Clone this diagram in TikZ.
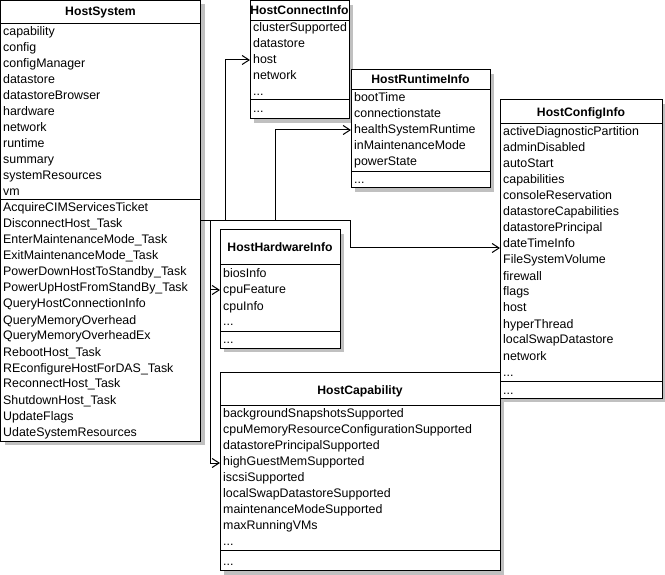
\documentclass[tikz,border=0pt]{standalone}
\usepackage{fontspec}
\setmainfont{Liberation Sans}
\usetikzlibrary{arrows.meta}
\definecolor{shadowc}{RGB}{192,192,192}
\newcommand\bodyf{\fontsize{12.4}{14}\selectfont}
\newcommand\ttlf{\fontsize{12.2}{14}\selectfont\bfseries}
\begin{document}
\begin{tikzpicture}[x=1pt,y=-1pt,
  cls/.style={draw=black,fill=white,line width=1pt,inner sep=0pt,outer sep=0pt,anchor=north west},
  shd/.style={fill=shadowc,draw=none},
  row/.style={anchor=base west,inner sep=0pt,font=\bodyf},
  ttl/.style={anchor=base,inner sep=0pt,font=\ttlf},
  sep/.style={line width=1pt},
  conn/.style={line width=1pt},
  arr/.style={-{Straight Barb[length=7pt,width=9pt]}}]
\useasboundingbox (0,0) rectangle (665,575);

% ---------------- shadows
\fill[shd] (4.5,4.5) rectangle (204.5,445);
\fill[shd] (254,5) rectangle (353,123);
\fill[shd] (355,74) rectangle (494,192);
\fill[shd] (504,104) rectangle (666,402);
\fill[shd] (224,234) rectangle (344,352);
\fill[shd] (224,376) rectangle (504,575);

% ---------------- HostSystem
\node[cls,minimum width=200pt,minimum height=440.5pt] (hs) at (0.5,0.5) {};
\node[ttl] (hst) at (hs.north |- 0,16) {HostSystem};
\draw[sep] (hs.west |- 0,24) -- (hs.east |- 0,24);
\foreach \t [count=\i from 0] in {capability,config,configManager,datastore,datastoreBrowser,hardware,network,runtime,summary,systemResources,vm}
  {\node[row] (hsa\i) at (3,36+16*\i) {\t};}
\draw[sep] (hs.west |- 0,200) -- (hs.east |- 0,200);
\foreach \t [count=\i from 0] in {AcquireCIMServicesTicket,DisconnectHost\_Task,EnterMaintenanceMode\_Task,ExitMaintenanceMode\_Task,PowerDownHostToStandby\_Task,PowerUpHostFromStandBy\_Task,QueryHostConnectionInfo,QueryMemoryOverhead,QueryMemoryOverheadEx,RebootHost\_Task,REconfigureHostForDAS\_Task,ReconnectHost\_Task,ShutdownHost\_Task,UpdateFlags,UdateSystemResources}
  {\node[row] (hsm\i) at (3,212+16*\i) {\t};}

% ---------------- HostConnectInfo
\node[cls,minimum width=99pt,minimum height=118pt] (hci) at (250,1) {};
\node[ttl] (hcit) at (hci.north |- 0,15) {HostConnectInfo};
\draw[sep] (hci.west |- 0,21) -- (hci.east |- 0,21);
\foreach \t [count=\i from 0] in {clusterSupported,datastore,host,network}
  {\node[row] (hcia\i) at (253,32+16*\i) {\t};}
\node[row] (hcie) at (253,96) {...};
\draw[sep] (hci.west |- 0,100) -- (hci.east |- 0,100);
\node[row] (hcim) at (253,113) {...};

% ---------------- HostRuntimeInfo
\node[cls,minimum width=139pt,minimum height=118pt] (hri) at (351,70) {};
\node[ttl] (hrit) at (hri.north |- 0,84) {HostRuntimeInfo};
\draw[sep] (hri.west |- 0,90) -- (hri.east |- 0,90);
\foreach \t [count=\i from 0] in {bootTime,connectionstate,healthSystemRuntime,inMaintenanceMode,powerState}
  {\node[row] (hria\i) at (354,102+16*\i) {\t};}
\draw[sep] (hri.west |- 0,172) -- (hri.east |- 0,172);
\node[row] (hrim) at (354,184) {...};

% ---------------- HostConfigInfo
\node[cls,minimum width=162pt,minimum height=298pt] (hcf) at (500,100) {};
\node[ttl] (hcft) at (hcf.north |- 0,117) {HostConfigInfo};
\draw[sep] (hcf.west |- 0,124) -- (hcf.east |- 0,124);
\foreach \t [count=\i from 0] in {activeDiagnosticPartition,adminDisabled,autoStart,capabilities,consoleReservation,datastoreCapabilities,datastorePrincipal,dateTimeInfo,FileSystemVolume,firewall,flags,host,hyperThread,localSwapDatastore,network}
  {\node[row] (hcfa\i) at (503,136+16*\i) {\t};}
\node[row] (hcfe) at (503,376) {...};
\draw[sep] (hcf.west |- 0,381) -- (hcf.east |- 0,381);
\node[row] (hcfm) at (503,394) {...};

% ---------------- HostHardwareInfo
\node[cls,minimum width=120pt,minimum height=118pt] (hhi) at (220,230) {};
\node[ttl] (hhit) at (hhi.north |- 0,252) {HostHardwareInfo};
\draw[sep] (hhi.west |- 0,265) -- (hhi.east |- 0,265);
\foreach \t [count=\i from 0] in {biosInfo,cpuFeature,cpuInfo}
  {\node[row] (hhia\i) at (223,278+16*\i) {\t};}
\node[row] (hhie) at (223,326) {...};
\draw[sep] (hhi.west |- 0,331) -- (hhi.east |- 0,331);
\node[row] (hhim) at (223,344) {...};

% ---------------- HostCapability
\node[cls,minimum width=280pt,minimum height=198pt] (hcap) at (220,372) {};
\node[ttl] (hcapt) at (hcap.north |- 0,394) {HostCapability};
\draw[sep] (hcap.west |- 0,405) -- (hcap.east |- 0,405);
\foreach \t [count=\i from 0] in {backgroundSnapshotsSupported,cpuMemoryResourceConfigurationSupported,datastorePrincipalSupported,highGuestMemSupported,iscsiSupported,localSwapDatastoreSupported,maintenanceModeSupported,maxRunningVMs}
  {\node[row] (hcapa\i) at (223,417+16*\i) {\t};}
\node[row] (hcape) at (223,545) {...};
\draw[sep] (hcap.west |- 0,550) -- (hcap.east |- 0,550);
\node[row] (hcapm) at (223,565) {...};

% ---------------- connectors
\coordinate (s) at (hs.east |- 0,221);
\coordinate (jA) at (210,221);
\coordinate (jB) at (225,221);
\coordinate (jC) at (275,221);
\coordinate (jD) at (350,221);
\coordinate (tDate) at (hcf.west |- 0,248);
\coordinate (tHost) at (hci.west |- 0,60);
\coordinate (tHealth) at (hri.west |- 0,130);
\coordinate (tCpu) at (hhi.west |- 0,290);
\coordinate (tHigh) at (hcap.west |- 0,463);
\coordinate (jE) at (210,290);
\draw[conn,arr] (s) -- (jD) |- (tDate);
\draw[conn,arr] (jB) |- (tHost);
\draw[conn,arr] (jC) |- (tHealth);
\draw[conn,arr] (jA) |- (tHigh);
\draw[conn,arr] (jE) -- (tCpu);
\end{tikzpicture}
\end{document}
